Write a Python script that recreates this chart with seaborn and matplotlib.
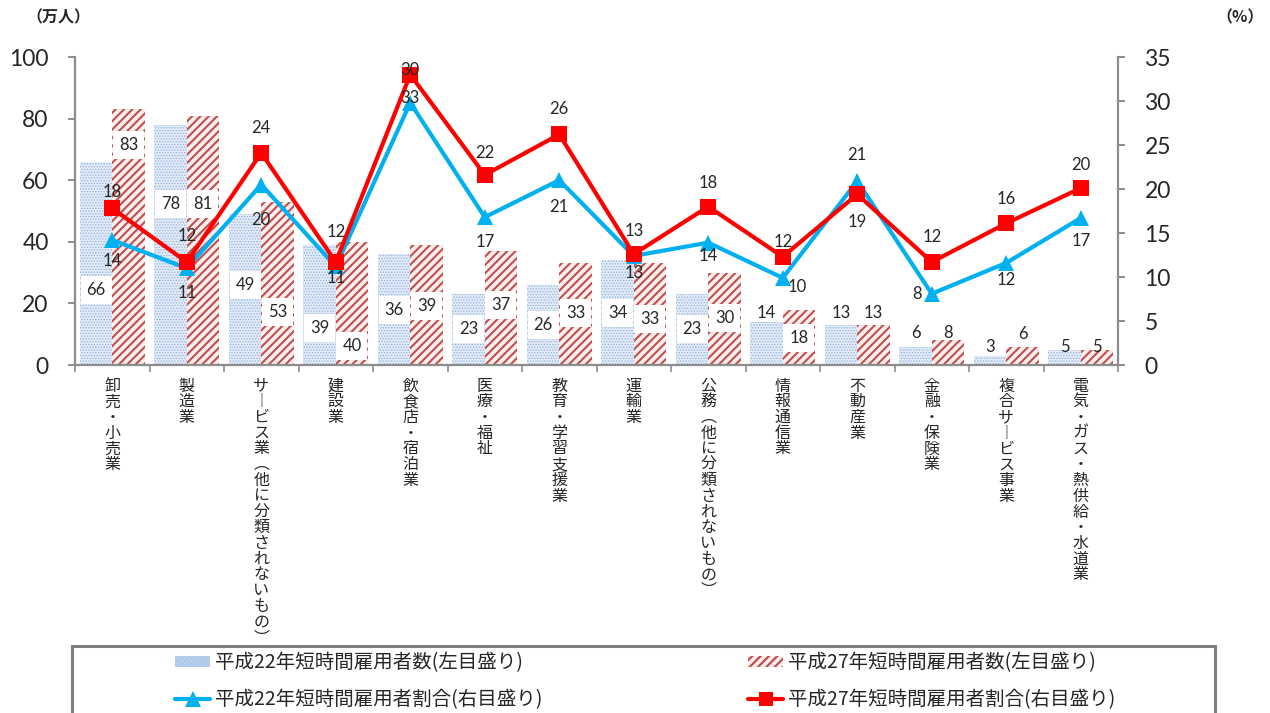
import numpy as np
import pandas as pd
import matplotlib
matplotlib.use('Agg')
import matplotlib.pyplot as plt
import seaborn as sns
from matplotlib.patches import Patch, Rectangle
from matplotlib.lines import Line2D

# ---------------- data ----------------
categories = ['卸売・小売業', '製造業', 'サービス業（他に分類されないもの）', '建設業',
              '飲食店・宿泊業', '医療・福祉', '教育・学習支援業', '運輸業',
              '公務（他に分類されないもの）', '情報通信業', '不動産業', '金融・保険業',
              '複合サービス事業', '電気・ガス・熱供給・水道業']
workers_h22 = [66, 78, 49, 39, 36, 23, 26, 34, 23, 14, 13, 6, 3, 5]
workers_h27 = [83, 81, 53, 40, 39, 37, 33, 33, 30, 18, 13, 8, 6, 5]
ratio_h22 = [14.2, 11.0, 20.5, 11.2, 29.8, 16.8, 21.0, 12.4, 13.9, 9.9, 20.9, 8.1, 11.6, 16.7]
ratio_h27 = [17.8, 11.7, 24.1, 11.7, 33.0, 21.6, 26.2, 12.6, 18.0, 12.3, 19.4, 11.7, 16.1, 20.1]
ratio_h22_labels = ['14', '11', '20', '11', '33', '17', '21', '13', '14', '10', '21', '8', '12', '17']
ratio_h27_labels = ['18', '12', '24', '12', '30', '22', '26', '13', '18', '12', '19', '12', '16', '20']
series_names = ['平成22年短時間雇用者数(左目盛り)', '平成27年短時間雇用者数(左目盛り)',
                '平成22年短時間雇用者割合(右目盛り)', '平成27年短時間雇用者割合(右目盛り)']
left_ticks = [0, 20, 40, 60, 80, 100]
right_ticks = [0, 5, 10, 15, 20, 25, 30, 35]

# label placement (layout only)
bar22_label_y = [24.4, 52.3, 26, 12, 17.9, 11.7, 13, 16.9, 11.7, 16.9, 16.9, 10.4, 5.8, 5.8]
bar27_label_y = [71.4, 52.3, 17.2, 6.2, 19.2, 19.5, 16.9, 14.9, 15.3, 8.8, 16.9, 10.4, 10.0, 5.8]
red_label_dy = [-16, -26, -25, -30, -5, -22, -25, -23, -24, -15, 28, -25, -24, -23]   # px
blue_label_dy = [21, 25, 35, 12, -5, 25, 27, 17, 13, 9, -26, 0, 17, 23]              # px
blue_label_dx = [0, 0, 0, 0, 0, 0, 0, 0, 0, 14, 0, -15, 0, 0]                       # px

# ---------------- style ----------------
W, H, DPI = 1270, 713, 100
sns.set_style('white')
plt.rcParams['font.family'] = ['Lato', 'Noto Sans CJK JP', 'DejaVu Sans']
plt.rcParams['hatch.linewidth'] = 1.6
CJK = ['Noto Sans CJK JP', 'DejaVu Sans']
GRAY = '#8c8c8c'
BLUE = '#00b0f0'
RED = '#ff0000'
PX = 72.0 / DPI  # points per pixel

fig = plt.figure(figsize=(W / DPI, H / DPI), dpi=DPI)
ax = fig.add_axes([75 / W, 1 - 365 / H, (1118 - 75) / W, (365 - 57) / H])

n = len(categories)
df = pd.DataFrame({
    'category': categories * 2,
    'value': workers_h22 + workers_h27,
    'series': [series_names[0]] * n + [series_names[1]] * n,
})
sns.barplot(data=df, x='category', y='value', hue='series', order=categories,
            hue_order=series_names[:2], palette=['white', 'white'], width=0.87,
            ax=ax, legend=False, saturation=1)

bar_styles = [dict(face='#e2eaf6', hatch='......', hc='#8db3e2', hlw=0.6),
              dict(face='#fbeeee', hatch='////', hc='#c0504d', hlw=1.5)]


def style_patch(p, st):
    p.set_facecolor(st['face'])
    p.set_hatch(st['hatch'])
    p.set_edgecolor(st['hc'])
    p.set_linewidth(0)
    if hasattr(p, 'set_hatch_linewidth'):
        p.set_hatch_linewidth(st['hlw'])
    else:
        p._hatch_linewidth = st['hlw']


for cont, st in zip(ax.containers, bar_styles):
    for p in cont.patches:
        style_patch(p, st)

ax.set_ylim(0, 100)
ax.set_xlim(-0.5, n - 0.5)
ax.set_yticks(left_ticks)
ax.set_xticks(np.arange(-0.5, n, 1.0))
ax.set_xticklabels([])
ax.set_xlabel('')
ax.set_ylabel('')
for s in ['top', 'right']:
    ax.spines[s].set_visible(False)
for s in ['left', 'bottom']:
    ax.spines[s].set_color(GRAY)
    ax.spines[s].set_linewidth(1.6)
ax.tick_params(axis='y', direction='out', length=5, width=1.4, color=GRAY,
               labelsize=16.5, pad=14, left=True)
ax.tick_params(axis='x', direction='out', length=5, width=1.2, color=GRAY, bottom=True)

# bar value labels
bar_w = 0.87 / 2
for vals, ys, off in [(workers_h22, bar22_label_y, -bar_w / 2), (workers_h27, bar27_label_y, bar_w / 2)]:
    for i, (v, y) in enumerate(zip(vals, ys)):
        inside = y < v - 3
        kw = dict(boxstyle='square,pad=0.35', fc='white', ec='none') if inside else None
        ax.text(i + off, y, str(v), ha='center', va='center', fontsize=12,
                bbox=kw, zorder=5)

# lines on right axis
ax2 = ax.twinx()
x_idx = np.arange(n)
sns.lineplot(x=x_idx, y=ratio_h22, ax=ax2, color=BLUE, lw=3.0, marker='^',
             markersize=12, markeredgecolor=BLUE, markeredgewidth=0, zorder=3)
sns.lineplot(x=x_idx, y=ratio_h27, ax=ax2, color=RED, lw=3.0, marker='s',
             markersize=11, markeredgecolor=RED, markeredgewidth=0, zorder=4)
ax2.set_ylim(0, 35)
ax2.set_xlim(-0.5, n - 0.5)
ax2.set_yticks(right_ticks)
ax2.set_ylabel('')
for s in ['top', 'left', 'bottom']:
    ax2.spines[s].set_visible(False)
ax2.spines['right'].set_color(GRAY)
ax2.spines['right'].set_linewidth(1.6)
ax2.tick_params(axis='y', direction='out', length=5, width=1.4, color=GRAY,
                labelsize=16.5, pad=14, right=True)

for i in range(n):
    ax2.annotate(ratio_h27_labels[i], xy=(i, ratio_h27[i]), xytext=(0, -red_label_dy[i] * PX),
                 textcoords='offset points', ha='center', va='center', fontsize=12, zorder=6)
    ax2.annotate(ratio_h22_labels[i], xy=(i, ratio_h22[i]),
                 xytext=(blue_label_dx[i] * PX, -blue_label_dy[i] * PX),
                 textcoords='offset points', ha='center', va='center', fontsize=12, zorder=6)

# vertical category labels
vert = {'（': '︵', '）': '︶', 'ー': '︱'}
for i, cat in enumerate(categories):
    for j, ch in enumerate(cat):
        ax.annotate(vert.get(ch, ch), xy=(i, 0), xycoords=('data', 'axes fraction'),
                    xytext=(0, -(21 + j * 15.75) * PX), textcoords='offset points',
                    ha='center', va='center', fontsize=11.5, family=CJK, annotation_clip=False)

# unit labels
fig.text(58 / W, 1 - 17 / H, '（万人）', ha='center', va='center', fontsize=11.5,
         family=CJK, fontweight='bold')
fig.text(1240 / W, 1 - 17 / H, '（%）', ha='center', va='center', fontsize=11.5,
         family=CJK, fontweight='bold')

# legend frame
fig.add_artist(Rectangle((72 / W, -0.1), (1215 - 72) / W, (1 - 646 / H) + 0.1,
                         transform=fig.transFigure, fill=False, ec='#7f7f7f', lw=2.2,
                         clip_on=False))

h_bar22 = Patch(facecolor=bar_styles[0]['face'], hatch=bar_styles[0]['hatch'],
                edgecolor=bar_styles[0]['hc'], linewidth=0)
h_bar27 = Patch(facecolor=bar_styles[1]['face'], hatch=bar_styles[1]['hatch'],
                edgecolor=bar_styles[1]['hc'], linewidth=0)
h_l22 = Line2D([], [], color=BLUE, lw=3, marker='^', markersize=11, markeredgewidth=0)
h_l27 = Line2D([], [], color=RED, lw=3, marker='s', markersize=10, markeredgewidth=0)

common = dict(loc='upper left', frameon=False, borderpad=0, borderaxespad=0,
              handlelength=1.8, handleheight=0.5, handletextpad=0.25, labelspacing=0.85,
              prop={'family': CJK, 'size': 14})
leg1 = fig.legend([h_bar22, h_l22], [series_names[0], series_names[2]],
                  bbox_to_anchor=(175 / W, 1 - 652 / H), **common)
leg2 = fig.legend([h_bar27, h_l27], [series_names[1], series_names[3]],
                  bbox_to_anchor=(748 / W, 1 - 652 / H), **common)

fig.savefig('out.png', dpi=DPI)
